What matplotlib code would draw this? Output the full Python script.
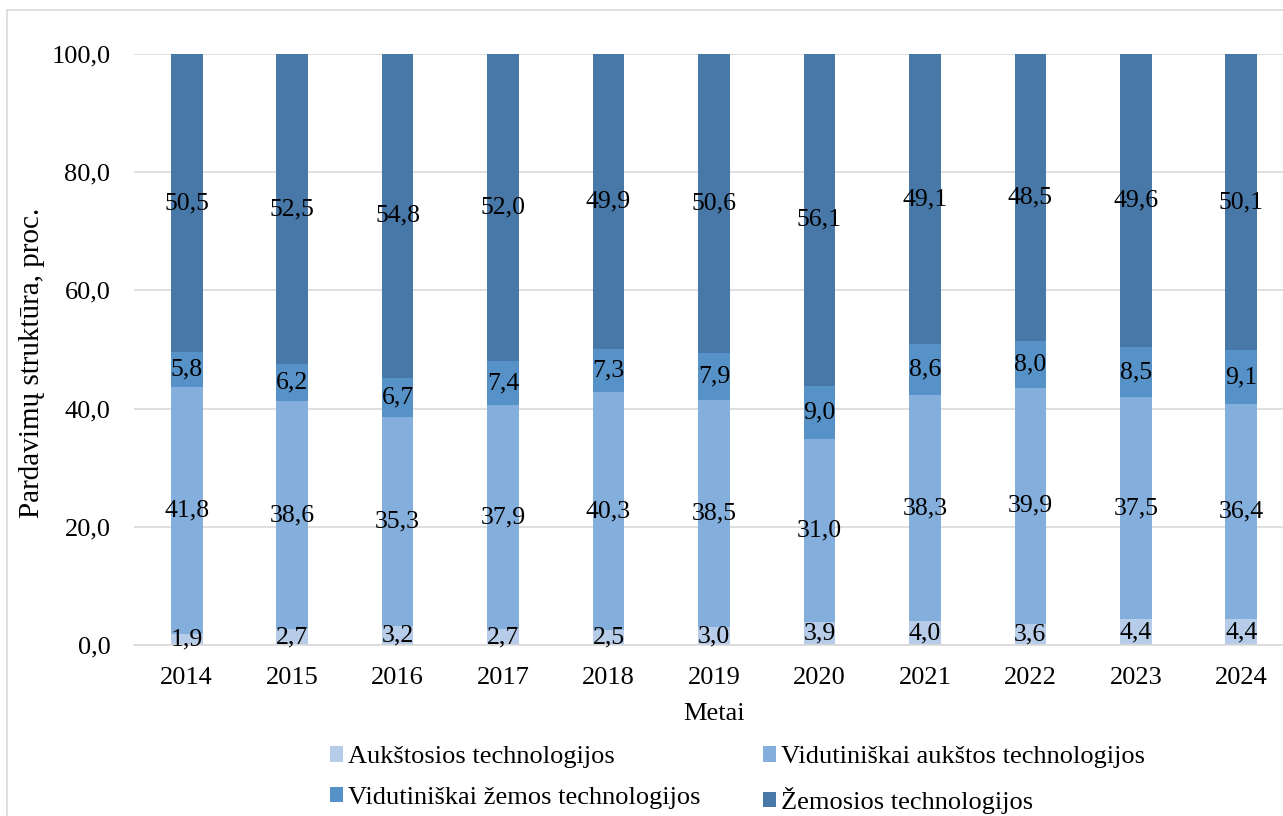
import numpy as np
import matplotlib.pyplot as plt
from matplotlib.patches import Rectangle

plt.rcParams['font.family'] = ['Liberation Serif', 'DejaVu Serif']

metai = ['2014', '2015', '2016', '2017', '2018', '2019', '2020', '2021', '2022', '2023', '2024']
aukstosios = [1.9, 2.7, 3.2, 2.7, 2.5, 3.0, 3.9, 4.0, 3.6, 4.4, 4.4]
vid_aukstos = [41.8, 38.6, 35.3, 37.9, 40.3, 38.5, 31.0, 38.3, 39.9, 37.5, 36.4]
vid_zemos = [5.8, 6.2, 6.7, 7.4, 7.3, 7.9, 9.0, 8.6, 8.0, 8.5, 9.1]
zemosios = [50.5, 52.5, 54.8, 52.0, 49.9, 50.6, 56.1, 49.1, 48.5, 49.6, 50.1]

serijos = [
    ('Aukštosios technologijos', aukstosios, '#b7cce8'),
    ('Vidutiniškai aukštos technologijos', vid_aukstos, '#84aedc'),
    ('Vidutiniškai žemos technologijos', vid_zemos, '#5692c8'),
    ('Žemosios technologijos', zemosios, '#4778a8'),
]

FS = 19

fig = plt.figure(figsize=(12.83, 8.16), dpi=100)
# light frame around the chart area (runs past the right and bottom edge)
fig.patches.append(Rectangle((7 / 1283, -0.1), 1.2, 1 - 10 / 816 + 0.1,
                             transform=fig.transFigure, fill=False,
                             edgecolor='#d9d9d9', linewidth=1.2))

ax = fig.add_axes([134 / 1283, 1 - 645 / 816, (1294 - 134) / 1283, (645 - 54) / 816])

x = np.arange(len(metai))
apacia = np.zeros(len(metai))
rankenos = []
for pav, reiksmes, spalva in serijos:
    r = np.array(reiksmes)
    bars = ax.bar(x, r, 0.30, bottom=apacia, color=spalva, label=pav, zorder=2)
    rankenos.append(bars)
    for xi, b, v in zip(x, apacia, r):
        ax.text(xi, b + v / 2, f'{v:.1f}'.replace('.', ','), ha='center', va='center',
                fontsize=18.5, zorder=3)
    apacia += r

ax.set_xlim(-0.5, len(metai) - 0.5)
ax.set_ylim(0, 100)
ax.set_yticks(np.arange(0, 101, 20))
ax.set_yticklabels([f'{v:.1f}'.replace('.', ',') for v in np.arange(0, 101, 20)])
ax.set_xticks(x)
ax.set_xticklabels(metai)
ax.tick_params(axis='both', length=0, labelsize=FS)
ax.tick_params(axis='x', pad=16)
ax.tick_params(axis='y', pad=17)
ax.grid(axis='y', color='#d9d9d9', linewidth=1.2, zorder=0)
for s in ['top', 'right', 'left']:
    ax.spines[s].set_visible(False)
ax.spines['bottom'].set_color('#d9d9d9')
ax.spines['bottom'].set_linewidth(1.2)

ax.set_xlabel('Metai', fontsize=FS, labelpad=10)
ax.set_ylabel('Pardavimų struktūra, proc.', fontsize=21)
ax.yaxis.set_label_coords(-0.077, 0.477)

tvarka = [0, 2, 1, 3]
fig.legend([rankenos[i] for i in tvarka], [serijos[i][0] for i in tvarka],
           loc='center', bbox_to_anchor=(0.575, 0.044), ncol=2, frameon=False,
           fontsize=FS, handlelength=0.5, handleheight=0.5, handletextpad=0.2,
           columnspacing=2.35, labelspacing=0.7)

fig.savefig('out.png', dpi=100)
